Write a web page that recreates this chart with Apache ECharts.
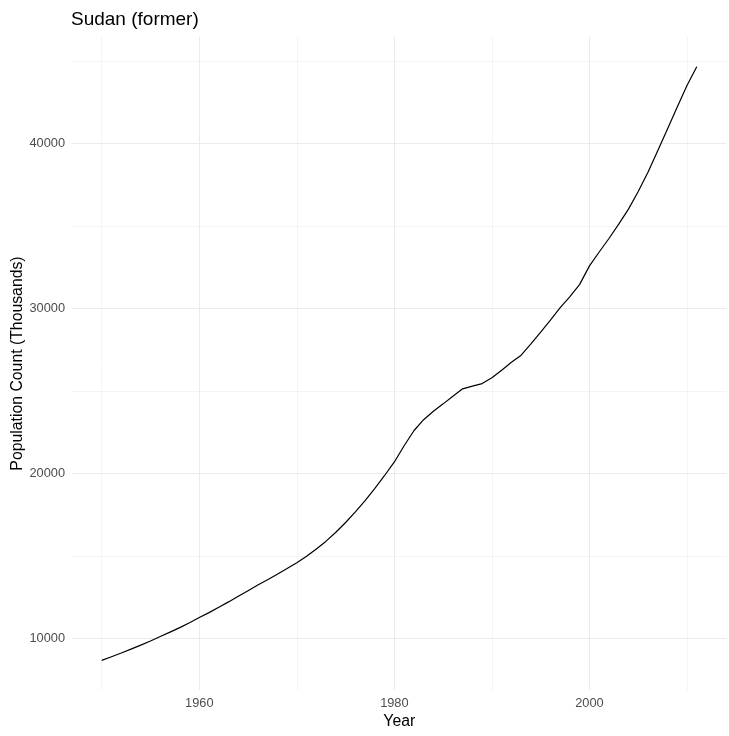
<!DOCTYPE html>
<html>
<head>
<meta charset="utf-8">
<script src="https://cdn.jsdelivr.net/npm/echarts@6/dist/echarts.min.js"></script>
<style>
  html, body { margin: 0; padding: 0; background: #ffffff; }
  #chart { width: 729px; height: 736px; }
</style>
</head>
<body>
<div id="chart"></div>
<script>
// ---- data ----
const years = [1950,1951,1952,1953,1954,1955,1956,1957,1958,1959,
               1960,1961,1962,1963,1964,1965,1966,1967,1968,1969,
               1970,1971,1972,1973,1974,1975,1976,1977,1978,1979,
               1980,1981,1982,1983,1984,1985,1986,1987,1988,1989,
               1990,1991,1992,1993,1994,1995,1996,1997,1998,1999,
               2000,2001,2002,2003,2004,2005,2006,2007,2008,2009,
               2010,2011];
const population = [8680,8900,9120,9360,9600,9850,10120,10390,10660,10960,
                    11270,11570,11890,12220,12560,12900,13240,13560,13900,14240,
                    14590,14980,15420,15900,16440,17030,17680,18360,19100,19880,
                    20700,21680,22590,23260,23770,24220,24680,25130,25290,25450,
                    25800,26260,26740,27170,27860,28560,29290,30050,30720,31460,
                    32580,33420,34240,35110,36020,37090,38250,39560,40880,42200,
                    43510,44650];
const xTickLabels = [1960, 1980, 2000];
const xMinorGrid = [1950, 1970, 1990, 2010];
const yTickLabels = [10000, 20000, 30000, 40000];
const yMinorGrid = [15000, 25000, 35000, 45000];
const titleText = 'Sudan (former)';
const xTitle = 'Year';
const yTitle = 'Population Count (Thousands)';

// ggplot-style expansion (5% each side)
const xLo = Math.min(...years), xHi = Math.max(...years);
const yLo = Math.min(...population), yHi = Math.max(...population);
const xPad = (xHi - xLo) * 0.05, yPad = (yHi - yLo) * 0.05;

const seriesData = years.map((y, i) => [y, population[i]]);
const gridColor = '#ebebeb';

const gridLines = [];
xTickLabels.forEach(v => gridLines.push({ xAxis: v, lineStyle: { width: 1.1, color: gridColor, type: 'solid' } }));
xMinorGrid.forEach(v => gridLines.push({ xAxis: v, lineStyle: { width: 0.55, color: gridColor, type: 'solid' } }));
yTickLabels.forEach(v => gridLines.push({ yAxis: v, lineStyle: { width: 1.1, color: gridColor, type: 'solid' } }));
yMinorGrid.forEach(v => gridLines.push({ yAxis: v, lineStyle: { width: 0.55, color: gridColor, type: 'solid' } }));

const chart = echarts.init(document.getElementById('chart'), null, { renderer: 'canvas' });
chart.setOption({
  animation: false,
  backgroundColor: '#ffffff',
  textStyle: { fontFamily: 'Liberation Sans, Arial, sans-serif' },
  title: {
    text: titleText,
    left: 71,
    top: 10,
    padding: 0,
    textStyle: { fontSize: 19, fontWeight: 'normal', color: '#000000', fontFamily: 'Liberation Sans, Arial, sans-serif' }
  },
  grid: { left: 72, right: 2.5, top: 37, bottom: 46, containLabel: false, outerBoundsMode: 'none' },
  xAxis: {
    type: 'value',
    min: xLo - xPad,
    max: xHi + xPad,
    name: xTitle,
    nameLocation: 'middle',
    nameGap: 24,
    nameMoveOverlap: false,
    nameTextStyle: { fontSize: 15.8, color: '#000000' },
    axisLine: { show: false },
    axisTick: { show: false },
    splitLine: { show: false },
    axisLabel: {
      customValues: xTickLabels,
      formatter: v => String(v),
      fontSize: 12.8,
      color: '#4d4d4d',
      margin: 7
    }
  },
  yAxis: {
    type: 'value',
    min: yLo - yPad,
    max: yHi + yPad,
    name: yTitle,
    nameLocation: 'middle',
    nameGap: 46,
    nameMoveOverlap: false,
    nameTextStyle: { fontSize: 15.8, color: '#000000' },
    axisLine: { show: false },
    axisTick: { show: false },
    splitLine: { show: false },
    axisLabel: {
      customValues: yTickLabels,
      formatter: v => String(v),
      fontSize: 12.8,
      color: '#4d4d4d',
      margin: 7
    }
  },
  series: [
    {
      type: 'line',
      z: 1,
      data: seriesData,
      showSymbol: false,
      silent: true,
      lineStyle: { opacity: 0 },
      markLine: {
        z: 1,
        silent: true,
        symbol: ['none', 'none'],
        label: { show: false },
        emphasis: { disabled: true },
        data: gridLines
      }
    },
    {
      type: 'line',
      z: 10,
      data: seriesData,
      showSymbol: false,
      smooth: false,
      lineStyle: { color: '#000000', width: 1.2 }
    }
  ]
});
</script>
</body>
</html>
